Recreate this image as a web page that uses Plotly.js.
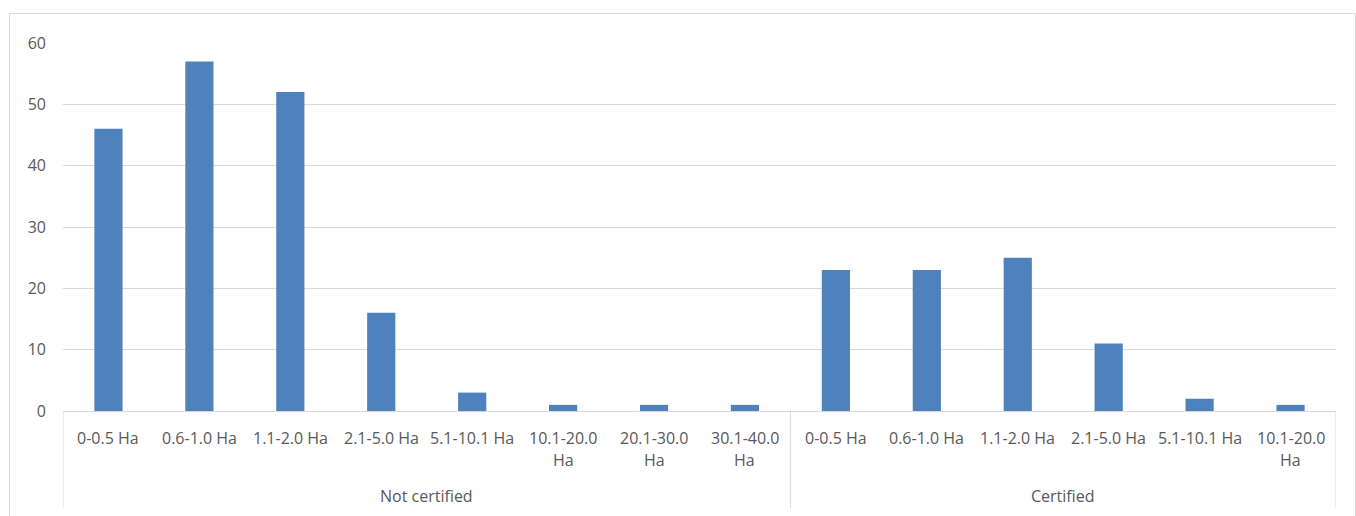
<!DOCTYPE html>
<html>
<head>
<meta charset="utf-8">
<script src="https://cdn.plot.ly/plotly-3.0.1.min.js"></script>
<style>html,body{margin:0;padding:0;background:#fff;}#chart{width:1356px;height:516px;}</style>
</head>
<body>
<div id="chart"></div>
<script>
// ---- data ----
const groups = ["Not certified", "Certified"];
const notCertifiedCats = ["0-0.5 Ha", "0.6-1.0 Ha", "1.1-2.0 Ha", "2.1-5.0 Ha", "5.1-10.1 Ha", "10.1-20.0 Ha", "20.1-30.0 Ha", "30.1-40.0 Ha"];
const notCertifiedVals = [46, 57, 52, 16, 3, 1, 1, 1];
const certifiedCats = ["0-0.5 Ha", "0.6-1.0 Ha", "1.1-2.0 Ha", "2.1-5.0 Ha", "5.1-10.1 Ha", "10.1-20.0 Ha"];
const certifiedVals = [23, 23, 25, 11, 2, 1];
const yTicks = [0, 10, 20, 30, 40, 50, 60];

// ---- build ----
const groupCats = [notCertifiedCats, certifiedCats];
const groupVals = [notCertifiedVals, certifiedVals];
const xs = [], ys = [], labels = [];
const groupRanges = [];
let idx = 0;
groupCats.forEach((cats, g) => {
  const start = idx;
  cats.forEach((c, i) => { xs.push(idx); ys.push(groupVals[g][i]); labels.push(c); idx++; });
  groupRanges.push([start - 0.5, idx - 0.5]);
});
const n = xs.length;

const plotTop = 43, plotBottom = 411, plotLeft = 63, plotRight = 1336;
const plotH = plotBottom - plotTop, plotW = plotRight - plotLeft;
const lblColor = "#595959";
const font = {family: "Open Sans, sans-serif", size: 16, color: lblColor};

const annotations = [];
xs.forEach((x, i) => {
  const lab = labels[i];
  let lines = [lab];
  if (lab.length > 11) { const k = lab.lastIndexOf(" "); lines = [lab.slice(0, k), lab.slice(k + 1)]; }
  lines.forEach((t, li) => {
    annotations.push({x: x, xref: "x", y: 0, yref: "paper", text: t, showarrow: false,
      xanchor: "center", yanchor: "middle", yshift: -(27 + li * 22), font: font});
  });
});
groups.forEach((g, gi) => {
  const r = groupRanges[gi];
  annotations.push({x: (r[0] + r[1]) / 2, xref: "x", y: 0, yref: "paper", text: g, showarrow: false,
    xanchor: "center", yanchor: "middle", yshift: -85, font: font});
});

const shapes = [];
const divY = -(508 - plotBottom) / plotH;
const bounds = [groupRanges[0][0]].concat(groupRanges.map(r => r[1]));
bounds.forEach(b => {
  shapes.push({type: "line", xref: "x", yref: "paper", x0: b, x1: b, y0: 0, y1: divY,
    line: {color: "#D9D9D9", width: 1}});
});
// outer chart border
shapes.push({type: "rect", xref: "paper", yref: "paper",
  x0: (9.5 - plotLeft) / plotW, x1: (1355.5 - plotLeft) / plotW,
  y0: (plotBottom - 13.5) / plotH, y1: -(530 - plotBottom) / plotH,
  line: {color: "#D9D9D9", width: 1}, fillcolor: "rgba(0,0,0,0)"});

const trace = {type: "bar", x: xs, y: ys, marker: {color: "#4F81BD"}, hoverinfo: "y"};

const layout = {
  width: 1356, height: 516,
  margin: {l: plotLeft, r: 1356 - plotRight, t: plotTop, b: 516 - plotBottom, pad: 0},
  paper_bgcolor: "#fff", plot_bgcolor: "#fff",
  bargap: 0.69,
  showlegend: false,
  xaxis: {range: [-0.5, n - 0.5], showticklabels: false, showgrid: false, zeroline: false,
    showline: true, linecolor: "#D9D9D9", linewidth: 1, ticks: "", fixedrange: true},
  yaxis: {range: [0, 60], tickvals: yTicks, ticktext: yTicks.map(String), showgrid: true,
    gridcolor: "#D9D9D9", gridwidth: 1, zeroline: false, showline: false, ticks: "",
    ticklabelstandoff: 16, tickfont: font},
  annotations: annotations,
  shapes: shapes
};

Plotly.newPlot("chart", [trace], layout, {displayModeBar: false, staticPlot: true});
</script>
</body>
</html>
